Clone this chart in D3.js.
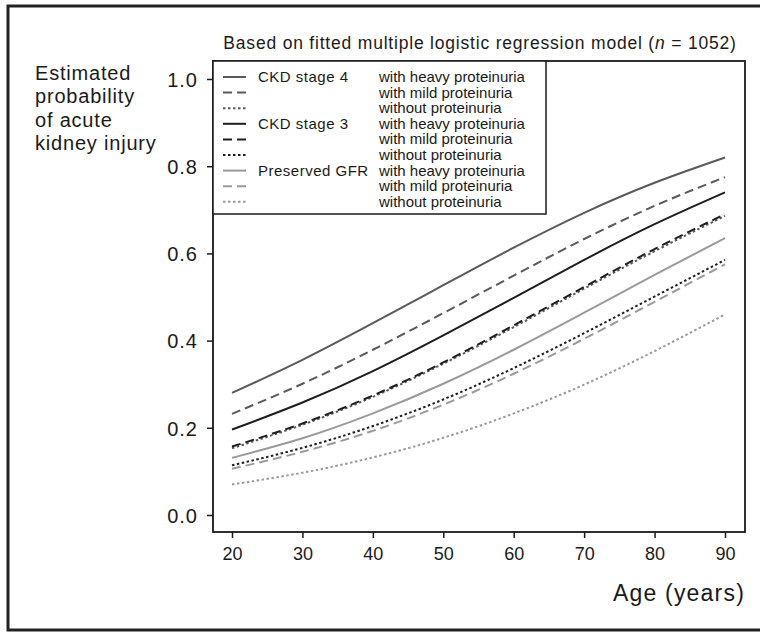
<!DOCTYPE html>
<html>
<head>
<meta charset="utf-8">
<script src="https://cdn.jsdelivr.net/npm/d3@7"></script>
<style>
  body { margin: 0; background: #fff; }
  svg text { font-family: "Liberation Sans", Arial, sans-serif; fill: #1a1a1a; }
  .axis path { display: none; }
  .axis line { stroke: #1a1a1a; stroke-width: 1.5; }
</style>
</head>
<body>
<div id="chart"></div>
<script>
// chart values
var ages = [20, 30, 40, 50, 60, 70, 80, 90];
var ckd4Heavy     = [0.280, 0.356, 0.440, 0.527, 0.613, 0.693, 0.762, 0.820];
var ckd4Mild      = [0.232, 0.301, 0.379, 0.463, 0.549, 0.633, 0.709, 0.775];
var ckd4Without   = [0.153, 0.207, 0.271, 0.347, 0.431, 0.519, 0.605, 0.686];
var ckd3Heavy     = [0.196, 0.258, 0.330, 0.412, 0.498, 0.585, 0.667, 0.740];
var ckd3Mild      = [0.157, 0.210, 0.274, 0.350, 0.435, 0.523, 0.610, 0.690];
var ckd3Without   = [0.114, 0.154, 0.204, 0.265, 0.337, 0.417, 0.501, 0.585];
var presHeavy     = [0.131, 0.176, 0.233, 0.301, 0.379, 0.464, 0.551, 0.635];
var presMild      = [0.106, 0.145, 0.193, 0.253, 0.324, 0.404, 0.489, 0.575];
var presWithout   = [0.070, 0.097, 0.132, 0.177, 0.233, 0.299, 0.376, 0.460];

var yTicks = [0.0, 0.2, 0.4, 0.6, 0.8, 1.0];
var xTicks = [20, 30, 40, 50, 60, 70, 80, 90];

var groupLabels = ['CKD stage 4', '', '', 'CKD stage 3', '', '', 'Preserved GFR', '', ''];
var levelLabels = ['with heavy proteinuria', 'with mild proteinuria', 'without proteinuria',
                   'with heavy proteinuria', 'with mild proteinuria', 'without proteinuria',
                   'with heavy proteinuria', 'with mild proteinuria', 'without proteinuria'];

// series in legend order
var series = [
  { values: ckd4Heavy,   color: '#5a5a5a', dash: null },
  { values: ckd4Mild,    color: '#5a5a5a', dash: '9,5' },
  { values: ckd4Without, color: '#5a5a5a', dash: '2.5,2.5' },
  { values: ckd3Heavy,   color: '#1e1e1e', dash: null },
  { values: ckd3Mild,    color: '#1e1e1e', dash: '9,5' },
  { values: ckd3Without, color: '#1e1e1e', dash: '2.5,2.5' },
  { values: presHeavy,   color: '#9a9a9a', dash: null },
  { values: presMild,    color: '#9a9a9a', dash: '9,5' },
  { values: presWithout, color: '#9a9a9a', dash: '2.5,2.5' }
];

var width = 760, height = 633;
var frame = { left: 213, right: 745, top: 61, bottom: 532 };

var svg = d3.select('#chart')
    .append('svg')
    .attr('width', width)
    .attr('height', height);

// outer box
svg.append('rect')
    .attr('x', 8).attr('y', 6)
    .attr('width', 770).attr('height', 624)
    .attr('fill', 'none')
    .attr('stroke', '#222')
    .attr('stroke-width', 3);

var xScale = d3.scaleLinear().domain([20, 90]).range([232, 725]);
var yScale = d3.scaleLinear().domain([0, 1]).range([515, 79]);

// curves
var line = d3.line()
    .x(function(d, i){ return xScale(ages[i]); })
    .y(function(d){ return yScale(d); })
    .curve(d3.curveNatural);

// draw bottom-most first so dark lines sit on top
var drawOrder = [8, 7, 6, 2, 1, 0, 5, 4, 3];
drawOrder.forEach(function(k){
    var s = series[k];
    svg.append('path')
        .attr('d', line(s.values))
        .attr('fill', 'none')
        .attr('stroke', s.color)
        .attr('stroke-width', 2)
        .attr('stroke-dasharray', s.dash);
});

// plot frame
svg.append('rect')
    .attr('x', frame.left).attr('y', frame.top)
    .attr('width', frame.right - frame.left)
    .attr('height', frame.bottom - frame.top)
    .attr('fill', 'none')
    .attr('stroke', '#1a1a1a')
    .attr('stroke-width', 1.8);

// axes
var yAxisG = svg.append('g')
    .attr('class', 'axis')
    .attr('transform', 'translate(' + frame.left + ',0)')
    .call(d3.axisLeft(yScale).tickValues(yTicks).tickSize(6).tickPadding(9)
        .tickFormat(d3.format('.1f')));
yAxisG.selectAll('text')
    .style('font-size', '20px')
    .style('letter-spacing', '1px')
    .attr('dy', '0.36em');

var xAxisG = svg.append('g')
    .attr('class', 'axis')
    .attr('transform', 'translate(0,' + frame.bottom + ')')
    .call(d3.axisBottom(xScale).tickValues(xTicks).tickSize(6).tickPadding(6)
        .tickFormat(d3.format('d')));
xAxisG.selectAll('text')
    .style('font-size', '18px')
    .attr('dy', '0.9em');

// axis titles
svg.append('text')
    .attr('x', 745).attr('y', 601)
    .attr('text-anchor', 'end')
    .style('font-size', '23px')
    .style('letter-spacing', '1.2px')
    .text('Age (years)');

var yTitle = ['Estimated', 'probability', 'of acute', 'kidney injury'];
svg.append('text')
    .attr('x', 35).attr('y', 80)
    .style('font-size', '20px')
    .style('letter-spacing', '0.8px')
    .selectAll('tspan')
    .data(yTitle)
    .enter()
    .append('tspan')
    .attr('x', 35)
    .attr('dy', function(d, i){ return i === 0 ? 0 : 23.4; })
    .text(function(d){ return d; });

// heading
var head = svg.append('text')
    .attr('x', 480).attr('y', 49)
    .attr('text-anchor', 'middle')
    .style('font-size', '17.5px')
    .style('letter-spacing', '0.8px');
head.append('tspan').text('Based on fitted multiple logistic regression model (');
head.append('tspan').style('font-style', 'italic').text('n');
head.append('tspan').text(' = 1052)');

// legend
var leg = svg.append('g');
leg.append('rect')
    .attr('x', frame.left).attr('y', frame.top)
    .attr('width', 333).attr('height', 153)
    .attr('fill', '#fff')
    .attr('stroke', '#1a1a1a')
    .attr('stroke-width', 1.5);

series.forEach(function(s, i){
    var yy = 77 + i * 15.6;
    leg.append('line')
        .attr('x1', 223).attr('x2', 246)
        .attr('y1', yy).attr('y2', yy)
        .attr('stroke', s.color)
        .attr('stroke-width', 2)
        .attr('stroke-dasharray', s.dash);
    if (groupLabels[i]) {
        leg.append('text')
            .attr('x', 258).attr('y', yy + 5)
            .style('font-size', '15px')
            .style('letter-spacing', '0.5px')
            .text(groupLabels[i]);
    }
    leg.append('text')
        .attr('x', 379).attr('y', yy + 5)
        .style('font-size', '15px')
        .text(levelLabels[i]);
});
</script>
</body>
</html>
